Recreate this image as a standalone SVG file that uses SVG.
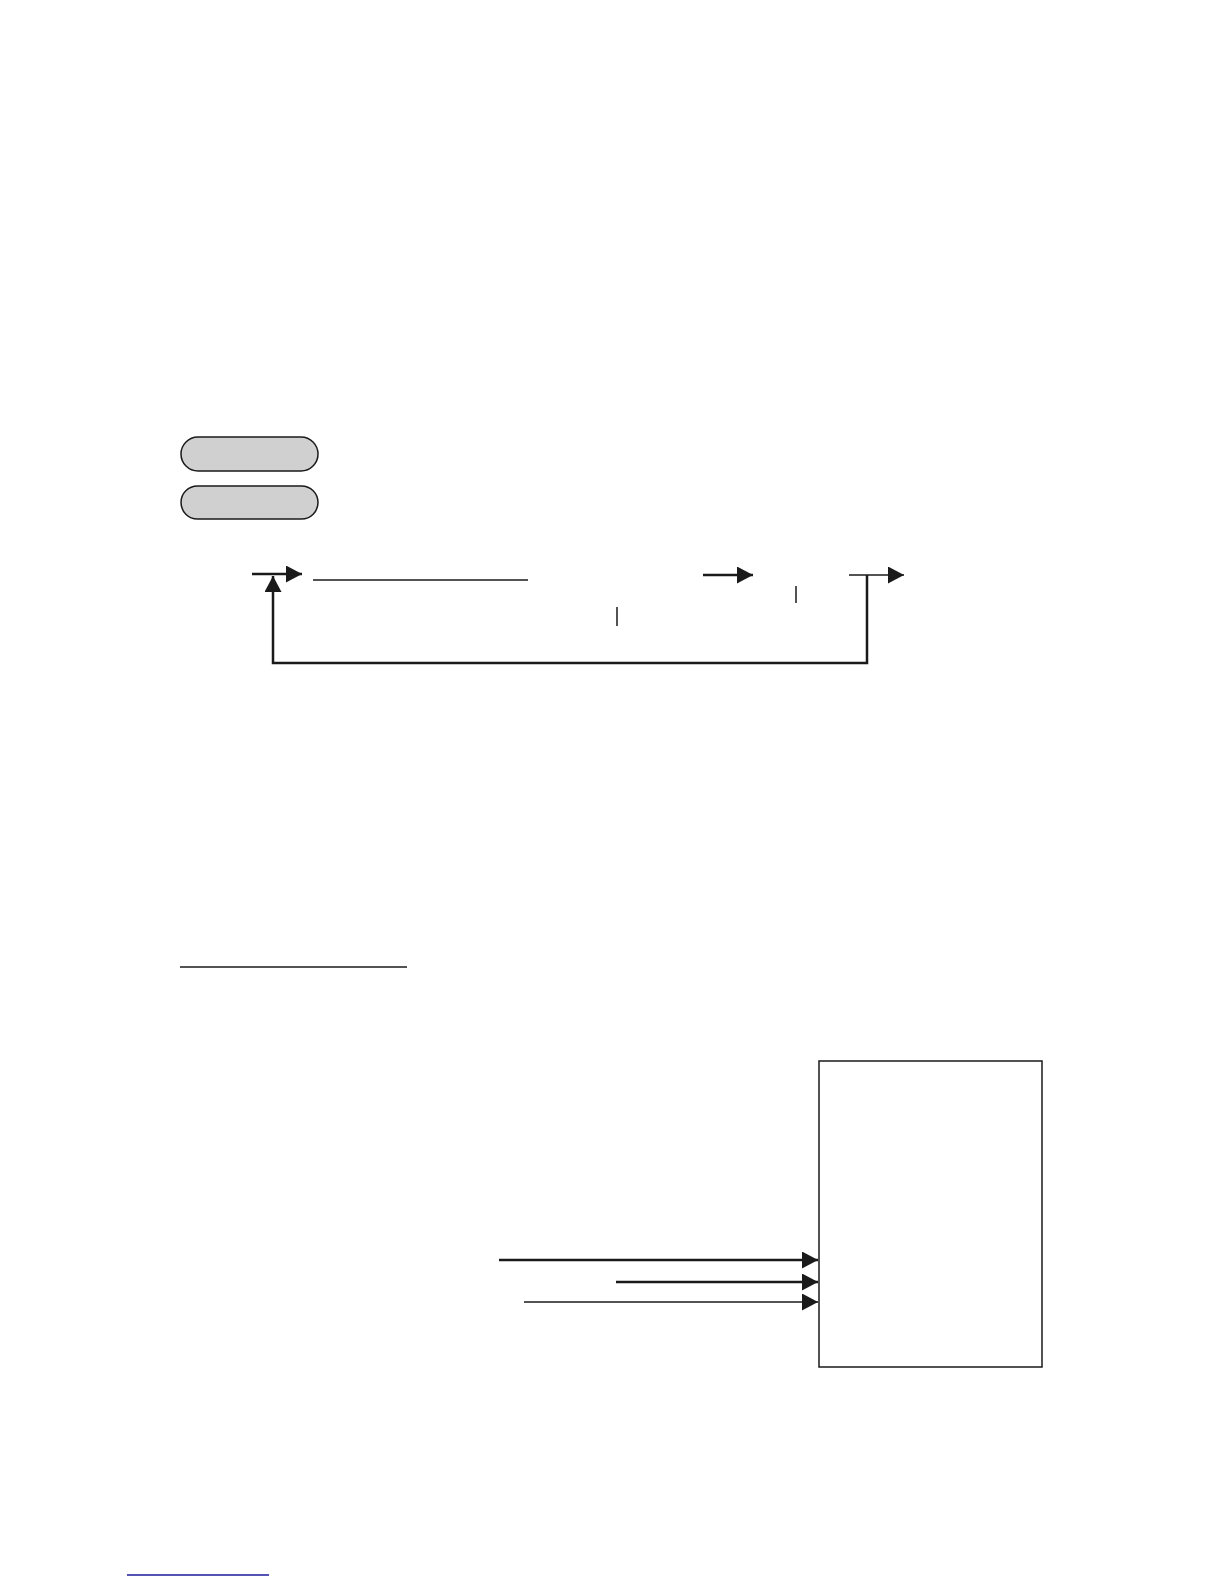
<svg xmlns="http://www.w3.org/2000/svg" width="1224" height="1584" viewBox="0 0 1224 1584">
<style>
.pill{fill:#d0d0d0;stroke:#1a1a1a;stroke-width:1.5}
.ln{fill:none;stroke:#1a1a1a;stroke-width:2.5}
.thin{fill:none;stroke:#1a1a1a;stroke-width:1.5}
.box{fill:#fff;stroke:#1a1a1a;stroke-width:1.5}
</style>
<defs>
<marker id="ah" markerUnits="userSpaceOnUse" markerWidth="18" markerHeight="18" refX="16" refY="8.5" orient="auto">
<path d="M0,0 L16,8.5 L0,17 Z" fill="#1a1a1a"/>
</marker>
</defs>
<rect width="1224" height="1584" fill="#fff"/>
<g id="pill1"><rect class="pill" x="181" y="437" width="137" height="34" rx="17" ry="17"/></g>
<g id="pill2"><rect class="pill" x="181" y="486" width="137" height="33" rx="16.5" ry="16.5"/></g>
<g id="box"><rect class="box" x="819" y="1061" width="223" height="306"/></g>
<g id="connectors">
<line class="ln" x1="252" y1="574" x2="302" y2="574" marker-end="url(#ah)"/>
<line class="thin" x1="313" y1="580" x2="528" y2="580"/>
<line class="ln" x1="703" y1="575" x2="753" y2="575" marker-end="url(#ah)"/>
<line class="thin" x1="849" y1="575" x2="904" y2="575" marker-end="url(#ah)"/>
<polyline class="ln" points="867,575 867,663 273,663 273,576" marker-end="url(#ah)"/>
<line class="thin" x1="617" y1="607" x2="617" y2="626"/>
<line class="thin" x1="796" y1="586" x2="796" y2="603"/>
<line class="thin" x1="180" y1="967" x2="407" y2="967"/>
<line class="ln" x1="499" y1="1260" x2="818" y2="1260" marker-end="url(#ah)"/>
<line class="ln" x1="616" y1="1282" x2="818" y2="1282" marker-end="url(#ah)"/>
<line class="thin" x1="524" y1="1302" x2="818" y2="1302" marker-end="url(#ah)"/>
<line x1="127" y1="1575" x2="269" y2="1575" stroke="#1a1a9a" stroke-width="1.5"/>
</g>
</svg>
